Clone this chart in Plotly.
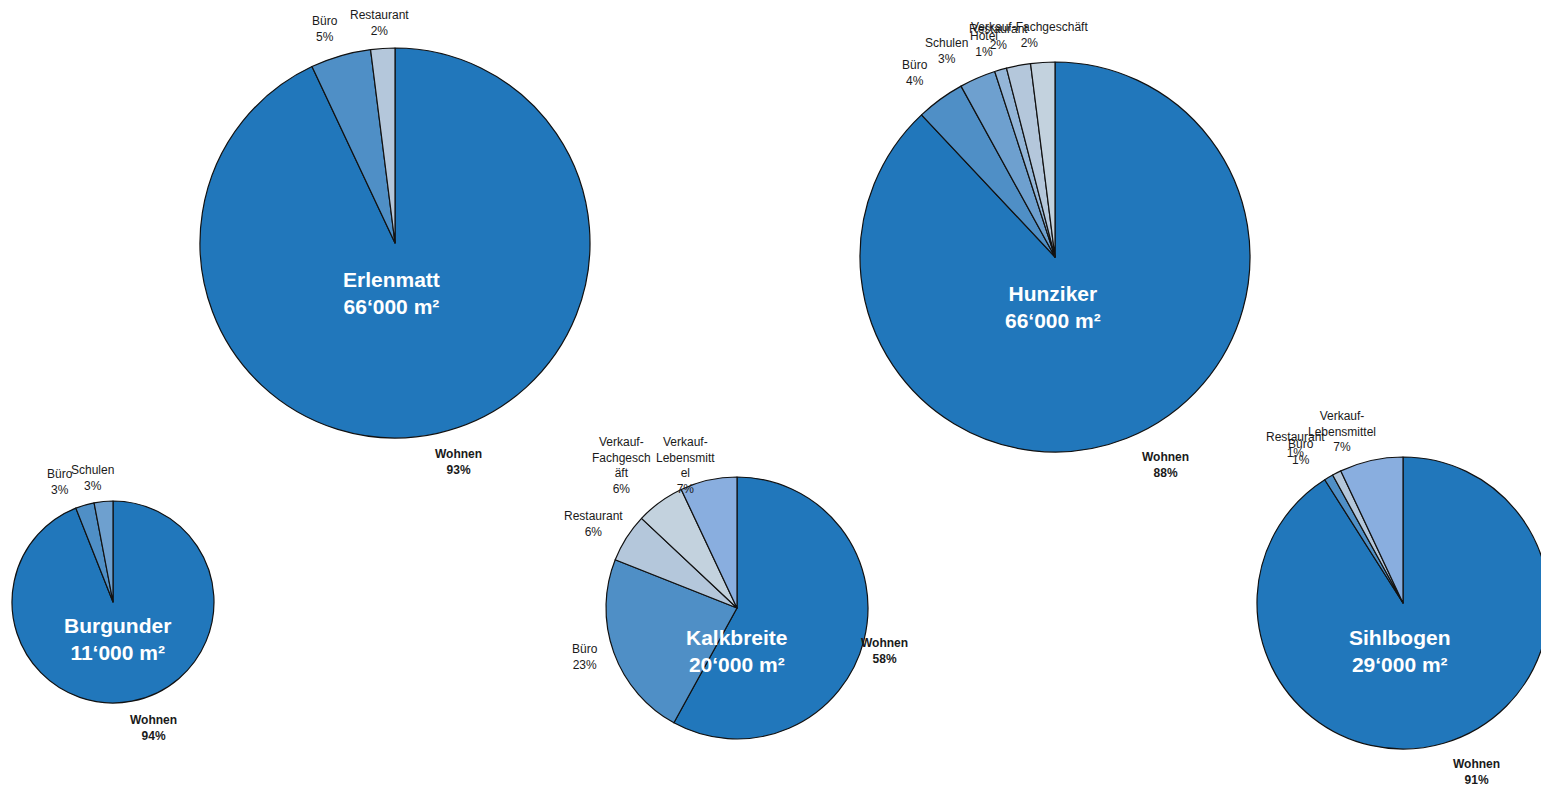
import plotly.graph_objects as go

W, H = 1549, 787
OFF = 8  # page body margin in the browser
FW, FH = W - OFF, H - OFF

# ---- data ----
erlenmatt_labels = ["Wohnen", "Büro", "Restaurant"]
erlenmatt_values = [93, 5, 2]

burgunder_labels = ["Wohnen", "Büro", "Schulen"]
burgunder_values = [94, 3, 3]

kalkbreite_labels = ["Wohnen", "Büro", "Restaurant", "Verkauf-Fachgeschäft", "Verkauf-Lebensmittel"]
kalkbreite_values = [58, 23, 6, 6, 7]

hunziker_labels = ["Wohnen", "Büro", "Schulen", "Hotel", "Restaurant", "Verkauf-Fachgeschäft"]
hunziker_values = [88, 4, 3, 1, 2, 2]

sihlbogen_labels = ["Wohnen", "Büro", "Restaurant", "Verkauf-Lebensmittel"]
sihlbogen_values = [91, 1, 1, 7]

site_names = ["Erlenmatt", "Burgunder", "Kalkbreite", "Hunziker", "Sihlbogen"]
site_areas = ["66‘000 m²", "11‘000 m²", "20‘000 m²", "66‘000 m²", "29‘000 m²"]

# ---- styles ----
colors = {
    "Wohnen": "#2177BB",
    "Büro": "#4F8FC6",
    "Schulen": "#6EA0CF",
    "Hotel": "#94B6D8",
    "Restaurant": "#B4C7DB",
    "Verkauf-Fachgeschäft": "#C3D2DE",
    "Verkauf-Lebensmittel": "#89AEDF",
}

# pixel geometry (screen coords): center x, center y, radius
geom = {
    "Erlenmatt": (395, 243, 195),
    "Burgunder": (113, 602, 101),
    "Kalkbreite": (737, 608, 131),
    "Hunziker": (1055, 257, 195),
    "Sihlbogen": (1403, 603, 146),
}
center_text_pos = {
    "Erlenmatt": (391, 293),
    "Burgunder": (117, 639),
    "Kalkbreite": (737, 651),
    "Hunziker": (1053, 307),
    "Sihlbogen": (1400, 651),
}
label_layout = {
    "Erlenmatt": {"Wohnen": (458, 462, None), "Büro": (325, 29, None), "Restaurant": (379, 23, None)},
    "Burgunder": {"Wohnen": (153, 728, None), "Büro": (60, 482, None), "Schulen": (92, 478, None)},
    "Kalkbreite": {
        "Wohnen": (884, 651, None),
        "Büro": (585, 657, None),
        "Restaurant": (593, 524, None),
        "Verkauf-Fachgeschäft": (621, 465, ["Verkauf-", "Fachgesch", "äft"]),
        "Verkauf-Lebensmittel": (685, 465, ["Verkauf-", "Lebensmitt", "el"]),
    },
    "Hunziker": {
        "Wohnen": (1165, 465, None),
        "Büro": (915, 73, None),
        "Schulen": (946, 51, None),
        "Hotel": (984, 44, None),
        "Restaurant": (998, 37, None),
        "Verkauf-Fachgeschäft": (1029, 35, None),
    },
    "Sihlbogen": {
        "Wohnen": (1476, 772, None),
        "Büro": (1301, 452, None),
        "Restaurant": (1295, 445, None),
        "Verkauf-Lebensmittel": (1342, 431, ["Verkauf-", "Lebensmittel"]),
    },
}

datasets = {
    "Erlenmatt": (erlenmatt_labels, erlenmatt_values),
    "Burgunder": (burgunder_labels, burgunder_values),
    "Kalkbreite": (kalkbreite_labels, kalkbreite_values),
    "Hunziker": (hunziker_labels, hunziker_values),
    "Sihlbogen": (sihlbogen_labels, sihlbogen_values),
}

FONT = "Liberation Sans, Arial, sans-serif"


def px(x):
    return (x - OFF) / FW


def py(y):
    return 1 - (y - OFF) / FH


fig = go.Figure()
annotations = []
for name, area in zip(site_names, site_areas):
    labels, values = datasets[name]
    cx, cy, r = geom[name]
    fig.add_trace(go.Pie(
        labels=labels,
        values=values,
        sort=False,
        direction="clockwise",
        rotation=0,
        textinfo="none",
        hoverinfo="label+percent",
        marker=dict(colors=[colors[l] for l in labels], line=dict(color="#111111", width=1.2)),
        domain=dict(x=[max(0, px(cx - r)), min(1, px(cx + r))],
                    y=[max(0, py(cy + r)), min(1, py(cy - r))]),
        showlegend=False,
        name=name,
    ))
    tx, ty = center_text_pos[name]
    annotations.append(dict(
        x=px(tx), y=py(ty), xref="paper", yref="paper",
        text=f"<b>{name}<br>{area}</b>", showarrow=False,
        font=dict(family=FONT, size=21, color="white"),
        xanchor="center", yanchor="middle", align="center",
    ))
    for lab, val in zip(labels, values):
        lx, ly, lines = label_layout[name][lab]
        parts = lines if lines else [lab]
        txt = "<br>".join(parts + [f"{val}%"])
        bold = lab == "Wohnen"
        if bold:
            txt = f"<b>{txt}</b>"
        annotations.append(dict(
            x=px(lx), y=py(ly), xref="paper", yref="paper",
            text=txt, showarrow=False,
            font=dict(family=FONT, size=12, color="#1a1a1a"),
            xanchor="center", yanchor="middle", align="center",
        ))

fig.update_layout(
    width=FW, height=FH,
    margin=dict(l=0, r=0, t=0, b=0),
    paper_bgcolor="white", plot_bgcolor="white",
    annotations=annotations,
)

fig.write_html("out.html")
